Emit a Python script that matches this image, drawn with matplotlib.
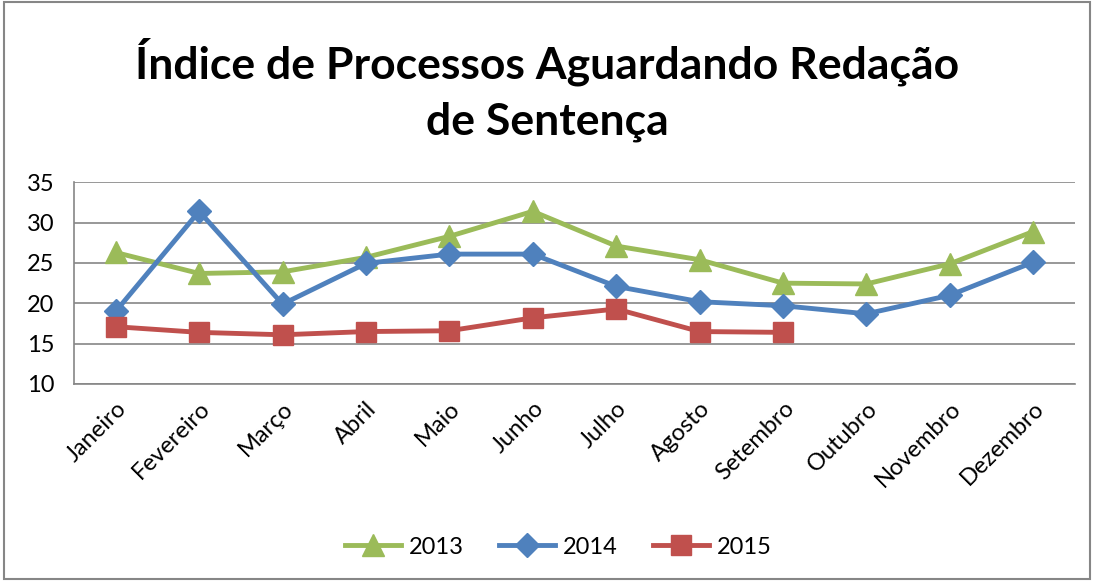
import matplotlib
matplotlib.use("Agg")
import matplotlib.pyplot as plt
from matplotlib.patches import Rectangle

months = ["Janeiro", "Fevereiro", "Março", "Abril", "Maio", "Junho", "Julho",
          "Agosto", "Setembro", "Outubro", "Novembro", "Dezembro"]
v2013 = [26.3, 23.7, 23.9, 25.7, 28.3, 31.4, 27.1, 25.4, 22.5, 22.4, 24.9, 28.9]
v2014 = [19.0, 31.4, 19.9, 24.95, 26.1, 26.1, 22.1, 20.2, 19.7, 18.7, 21.0, 25.1]
v2015 = [17.1, 16.4, 16.1, 16.5, 16.6, 18.2, 19.3, 16.5, 16.4]
yticks = [10, 15, 20, 25, 30, 35]

plt.rcParams['font.family'] = ['Lato', 'DejaVu Sans']

W, H = 1094, 581
fig = plt.figure(figsize=(W / 100, H / 100), dpi=100)
fig.patches.append(Rectangle((4 / W, 2 / H), (W - 8) / W, (H - 4) / H,
                             transform=fig.transFigure, fill=False,
                             edgecolor="#868686", linewidth=1.5))

ax = fig.add_axes([74 / W, (H - 384) / H, 1001 / W, (384 - 182.3) / H])
x = list(range(len(months)))
ax.plot(x, v2013, color="#9BBB59", lw=3.5, marker="^", ms=16, label="2013")
ax.plot(x, v2014, color="#4F81BD", lw=3.5, marker="D", ms=12, label="2014")
ax.plot(x[:len(v2015)], v2015, color="#C0504D", lw=3.5, marker="s", ms=14, label="2015")

ax.set_xlim(-0.5, len(months) - 0.5)
ax.set_ylim(10, 35)
ax.set_yticks(yticks)
ax.set_yticklabels([str(t) for t in yticks], fontsize=17)
ax.yaxis.grid(True, color="#868686", lw=1.2)
ax.set_axisbelow(True)
ax.set_xticks(x)
ax.set_xticklabels(months, rotation=45, ha="right", rotation_mode="anchor", fontsize=17)
ax.tick_params(axis="y", length=0, pad=14)
ax.tick_params(axis="x", length=0, pad=10)
for s in ["top", "right"]:
    ax.spines[s].set_visible(False)
for s in ["left", "bottom"]:
    ax.spines[s].set_color("#868686")
    ax.spines[s].set_linewidth(1.2)

fig.text(0.5, 1 - 62 / H, "Índice de Processos Aguardando Redação", ha="center", va="center",
         fontsize=32, fontweight="bold")
fig.text(0.5, 1 - 122 / H, "de Sentença", ha="center", va="center",
         fontsize=32, fontweight="bold")

fig.legend(loc="center", bbox_to_anchor=(558 / W, 1 - 547 / H), ncol=3, frameon=False,
           fontsize=17, handlelength=2.4, columnspacing=1.5, handletextpad=0.3)

fig.savefig("out.png", dpi=100)
